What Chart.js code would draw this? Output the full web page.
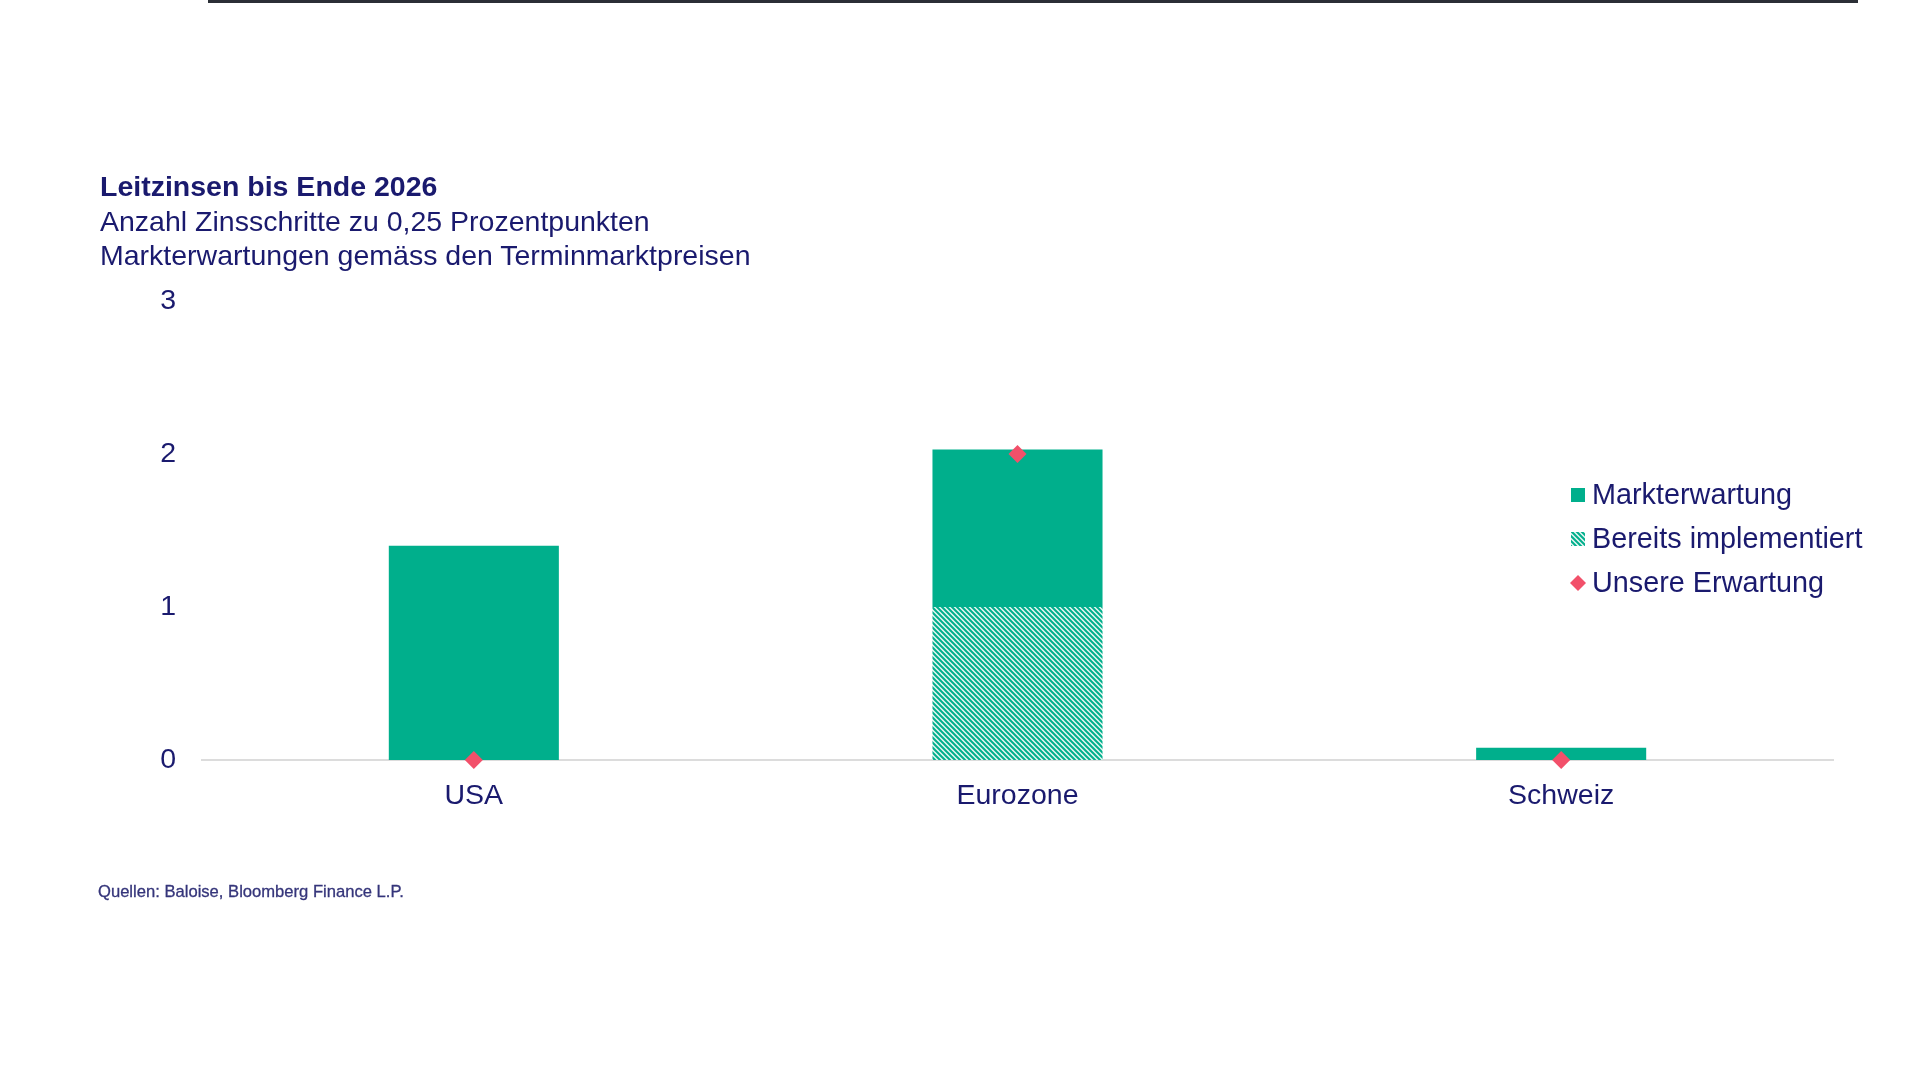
<!DOCTYPE html>
<html>
<head>
<meta charset="utf-8">
<script src="https://cdn.jsdelivr.net/npm/chart.js@4.4.1/dist/chart.umd.min.js"></script>
<style>
  body { margin: 0; background: #fff; }
  #wrap { position: relative; width: 1920px; height: 1080px; overflow: hidden;
          font-family: "Liberation Sans", Arial, sans-serif; color: #1a1a6e; }
  #topline { position: absolute; left: 208px; top: 0; width: 1650px; height: 3px; background: #2b2f36; }
  #title { position: absolute; left: 100px; top: 169px; font-size: 28.5px; line-height: 34.5px; }
  #source { position: absolute; left: 98px; top: 882px; font-size: 16.6px; color: #35357a;
            -webkit-text-stroke: 0.3px #35357a; }
  canvas { position: absolute; left: 0; top: 0; }
</style>
</head>
<body>
<div id="wrap">
  <div id="topline"></div>
  <canvas id="chart" width="1920" height="1080"></canvas>
  <div id="title">
    <b>Leitzinsen bis Ende 2026</b><br>
    Anzahl Zinsschritte zu 0,25 Prozentpunkten<br>
    Markterwartungen gemäss den Terminmarktpreisen
  </div>
  <div id="source">Quellen: Baloise, Bloomberg Finance L.P.</div>
</div>
<script>
// data
const categories = ["USA", "Eurozone", "Schweiz"];
const bereitsImplementiert = [0, 1, 0];
const markterwartung = [1.4, 1.03, 0.08];
const unsereErwartung = [0, 2, 0];
const yTicks = [0, 1, 2, 3];

const teal = "#00af8c";
const pink = "#f2506a";
const navy = "#1a1a6e";
const font = "'Liberation Sans', Arial, sans-serif";

// diagonal hatch for the already implemented steps
function makeHatch() {
    const s = 5;
    const p = document.createElement("canvas");
    p.width = s; p.height = s;
    const c = p.getContext("2d");
    c.fillStyle = "#e6f6f2";
    c.fillRect(0, 0, s, s);
    c.strokeStyle = teal;
    c.lineWidth = 2;
    c.beginPath();
    c.moveTo(-1, -1); c.lineTo(s + 1, s + 1);
    c.moveTo(-1, s - 1); c.lineTo(1, s + 1);
    c.moveTo(s - 1, -1); c.lineTo(s + 1, 1);
    c.stroke();
    return c.createPattern(p, "repeat");
}
const hatch = makeHatch();

// legend sits inside the plot on the right
const sideLegend = {
    id: "sideLegend",
    afterDraw(chart) {
        const c = chart.ctx;
        const ds = chart.data.datasets;
        const items = [
            { text: ds[1].label, fill: teal, kind: "box" },
            { text: ds[0].label, fill: hatch, kind: "box" },
            { text: ds[2].label, fill: pink, kind: "diamond" }
        ];
        c.save();
        c.font = "28.8px " + font;
        c.textBaseline = "middle";
        c.textAlign = "left";
        items.forEach((it, i) => {
            const y = 495 + i * 44;
            const x = 1578;
            c.fillStyle = it.fill;
            if (it.kind === "box") {
                c.fillRect(x - 7, y - 7, 14, 14);
            } else {
                c.beginPath();
                c.moveTo(x, y - 8); c.lineTo(x + 8, y); c.lineTo(x, y + 8); c.lineTo(x - 8, y);
                c.closePath();
                c.fill();
            }
            c.fillStyle = navy;
            c.fillText(it.text, 1592, y + 1);
        });
        c.restore();
    }
};

new Chart(document.getElementById("chart"), {
    data: {
        labels: categories,
        datasets: [
            {
                type: "bar",
                label: "Bereits implementiert",
                data: bereitsImplementiert,
                backgroundColor: hatch,
                stack: "s",
                order: 1,
                categoryPercentage: 0.8,
                barPercentage: 0.391
            },
            {
                type: "bar",
                label: "Markterwartung",
                data: markterwartung,
                backgroundColor: teal,
                stack: "s",
                order: 1,
                categoryPercentage: 0.8,
                barPercentage: 0.391
            },
            {
                type: "line",
                label: "Unsere Erwartung",
                data: unsereErwartung,
                showLine: false,
                pointStyle: "rectRot",
                pointRadius: 9,
                pointHoverRadius: 9,
                pointBackgroundColor: pink,
                pointBorderWidth: 0,
                stack: "p",
                order: 0,
                clip: false
            }
        ]
    },
    options: {
        responsive: false,
        animation: false,
        layout: {
            padding: { left: 0, right: 87, top: 301, bottom: 0 }
        },
        plugins: {
            legend: { display: false },
            tooltip: { enabled: false }
        },
        scales: {
            x: {
                stacked: true,
                grid: { display: false },
                border: { display: true, color: "#dcdcdc", width: 2 },
                ticks: {
                    color: navy,
                    font: { family: font, size: 28.5 },
                    padding: 11
                },
                afterFit(scale) { scale.height = 320; }
            },
            y: {
                stacked: true,
                min: yTicks[0],
                max: yTicks[yTicks.length - 1],
                grid: { display: false },
                border: { display: false },
                ticks: {
                    stepSize: 1,
                    color: navy,
                    font: { family: font, size: 28.5 },
                    padding: 18
                },
                afterFit(scale) { scale.width = 202; }
            }
        }
    },
    plugins: [sideLegend]
});
</script>
</body>
</html>
